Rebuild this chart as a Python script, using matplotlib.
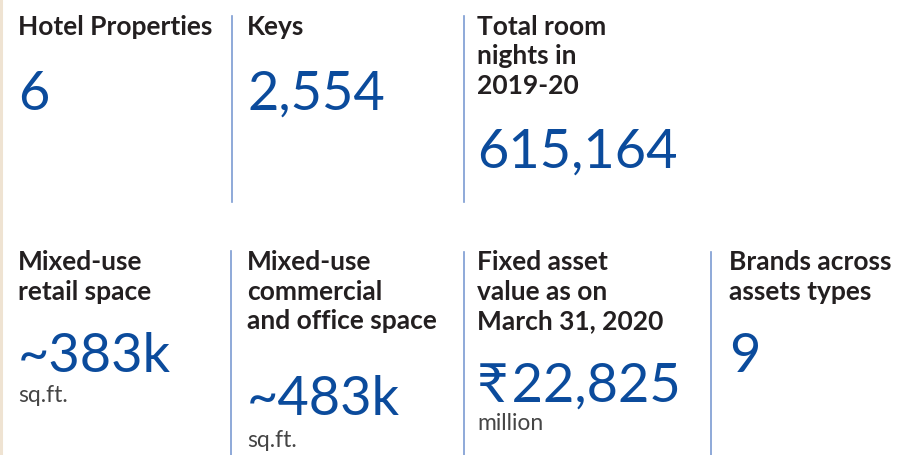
import matplotlib
matplotlib.use("Agg")
import matplotlib.pyplot as plt

# ---- data ----
titles = [
    "Hotel Properties",
    "Keys",
    "Total room\nnights in\n2019-20",
    "Mixed-use\nretail space",
    "Mixed-use\ncommercial\nand office space",
    "Fixed asset\nvalue as on\nMarch 31, 2020",
    "Brands across\nassets types",
]
values = ["6", "2,554", "615,164", "~383k", "~483k", "\u20b9\u200a22,825", "9"]
units = ["", "", "", "sq.ft.", "sq.ft.", "million", ""]

# ---- layout (pixels) ----
W, H = 900, 455
title_x = [18, 247, 477, 18, 247, 477, 729]
title_base = [35, 35, 35, 270, 270, 270, 270]
value_base = [110, 110, 168, 372, 415, 402, 372]
unit_base = [0, 0, 0, 402, 447, 430, 0]
dividers = [(232, 16, 202), (464, 16, 202), (231, 251, 455), (464, 252, 455), (711, 252, 455)]

BLUE = "#0b4b9c"
DARK = "#231f20"
GRAY = "#454545"
LINE = "#7b9bd2"
FAM = ["Lato", "DejaVu Sans"]

fig = plt.figure(figsize=(W / 100, H / 100), dpi=100)
ax = fig.add_axes([0, 0, 1, 1])
ax.set_xlim(0, W)
ax.set_ylim(H, 0)
ax.axis("off")

ax.plot([1, 1], [0, H], color="#efe3d2", lw=2.2)
for x, y0, y1 in dividers:
    ax.plot([x, x], [y0, y1], color=LINE, lw=1.2)

LS = 29.5
for t, tx, tb, v, vb, u, ub in zip(titles, title_x, title_base, values, value_base, units, unit_base):
    for i, line in enumerate(t.split("\n")):
        ax.text(tx, tb + i * LS, line, family=FAM, fontsize=19, fontweight="bold",
                color=DARK, va="baseline", ha="left")
    ax.text(tx, vb, v, family=FAM, fontsize=39, color=BLUE, va="baseline", ha="left")
    if u:
        ax.text(tx, ub, u, family=FAM, fontsize=16.5, color=GRAY, va="baseline", ha="left")

fig.savefig("out.png", dpi=100, facecolor="white")
